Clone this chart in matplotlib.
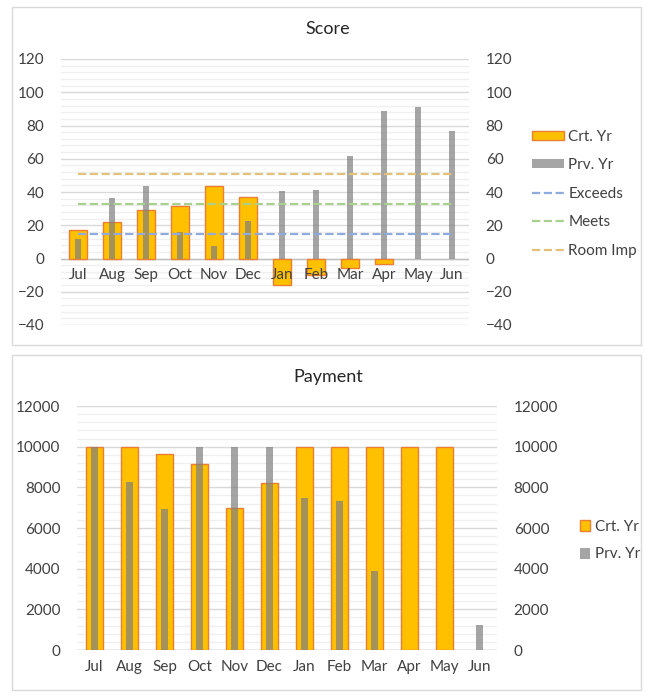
import matplotlib.pyplot as plt
from matplotlib.patches import Rectangle, Patch
from matplotlib.lines import Line2D
from matplotlib.ticker import MultipleLocator

plt.rcParams['font.family'] = ['Lato', 'DejaVu Sans']

# ==========================================================
# Data

months = ["Jul", "Aug", "Sep", "Oct", "Nov", "Dec",
          "Jan", "Feb", "Mar", "Apr", "May", "Jun"]

score_crt = [17, 22, 29, 31.5, 43.5, 37, -16, -10, -6, -3.5, 0, 0]
score_prv = [12, 36.5, 43.5, 16, 7.5, 22.5, 40.5, 41.5, 61.5, 88.5, 91, 76.5]
exceeds = 15
meets = 32.5
room_imp = 51

pay_crt = [10000, 10000, 9650, 9150, 7000, 8200,
           10000, 10000, 10000, 10000, 10000, 0]
pay_prv = [10000, 8250, 6950, 10000, 10000, 10000,
           7480, 7350, 3880, 0, 0, 1250]

YELLOW = "#FFC000"
ORANGE = "#ED7D31"
GREY = "#7F7F7F"
GRID = "#D9D9D9"
MINOR = "#EFEFEF"
TXT = "#404040"
FS = 11

fig = plt.figure(figsize=(6.45, 6.95), dpi=100)

# panel frames
for y0, h in [(350 / 695, 338 / 695), (5 / 695, 335 / 695)]:
    fig.add_artist(Rectangle((12 / 645, y0), 629 / 645, h,
                             transform=fig.transFigure, fill=False,
                             edgecolor=GRID, linewidth=1))


def style_axes(ax, lo, hi, major, minor):
    ax.set_ylim(lo, hi)
    ax.yaxis.set_major_locator(MultipleLocator(major))
    ax.yaxis.set_minor_locator(MultipleLocator(minor))
    ax.grid(axis="y", which="major", color=GRID, linewidth=1)
    ax.grid(axis="y", which="minor", color=MINOR, linewidth=0.9)
    ax.set_axisbelow(True)
    for s in ax.spines.values():
        s.set_visible(False)
    ax.tick_params(axis="y", which="both", length=0, labelsize=FS,
                   labelcolor=TXT, pad=12)
    ax.set_xticks([])

    # secondary axis on the right, same scale
    ax2 = ax.twinx()
    ax2.set_ylim(lo, hi)
    ax2.yaxis.set_major_locator(MultipleLocator(major))
    ax2.tick_params(axis="y", length=0, labelsize=FS, labelcolor=TXT, pad=12)
    for s in ax2.spines.values():
        s.set_visible(False)


def draw_bars(ax, crt, prv, crt_w):
    x = range(len(months))
    edges = [ORANGE if v else "none" for v in crt]
    ax.bar(x, crt, width=crt_w, color=YELLOW, edgecolor=edges,
           linewidth=1, zorder=2)
    ax.bar(x, prv, width=0.2, color=GREY, alpha=0.7, zorder=3)
    ax.set_xlim(-0.5, 11.5)
    ax.axhline(0, color="#BFBFBF", lw=1, zorder=1.5)
    for i, m in enumerate(months):
        ax.annotate(m, (i, 0), xytext=(0, -7), textcoords="offset points",
                    ha="center", va="top", fontsize=FS, color=TXT, zorder=6)


# ==========================================================
# Score

ax = fig.add_axes([61 / 645, 370 / 695, 408 / 645, 266 / 695])
draw_bars(ax, score_crt, score_prv, 0.54)
ax.plot([0, 11], [exceeds] * 2, "--", color="#8FAADC", lw=1.6, zorder=4)
ax.plot([0, 11], [meets] * 2, "--", color="#A9D18E", lw=1.6, zorder=4)
ax.plot([0, 11], [room_imp] * 2, "--", color="#E2C27A", lw=1.6, zorder=4)
style_axes(ax, -40, 120, 20, 4)
fig.text(328 / 645, 1 - 29 / 695, "Score", ha="center", va="center",
         fontsize=13, color="#262626")

handles = [
    Patch(facecolor=YELLOW, edgecolor=ORANGE, label="Crt. Yr"),
    Patch(facecolor="#A5A5A5", label="Prv. Yr"),
    Line2D([], [], ls="--", color="#8FAADC", lw=1.6, label="Exceeds"),
    Line2D([], [], ls="--", color="#A9D18E", lw=1.6, label="Meets"),
    Line2D([], [], ls="--", color="#E2C27A", lw=1.6, label="Room Imp"),
]
fig.legend(handles=handles, loc="upper left",
           bbox_to_anchor=(518 / 645, 1 - 116 / 695), frameon=False,
           fontsize=FS, labelcolor=TXT, handlelength=2.1, handleheight=0.55,
           labelspacing=0.95, handletextpad=0.3)

# ==========================================================
# Payment

bx = fig.add_axes([77 / 645, 45 / 695, 420 / 645, 244 / 695])
draw_bars(bx, pay_crt, pay_prv, 0.5)
style_axes(bx, 0, 12000, 2000, 400)
fig.text(328 / 645, 1 - 377 / 695, "Payment", ha="center", va="center",
         fontsize=13, color="#262626")

handles2 = [
    Patch(facecolor=YELLOW, edgecolor=ORANGE, label="Crt. Yr"),
    Patch(facecolor="#A5A5A5", label="Prv. Yr"),
]
fig.legend(handles=handles2, loc="upper left",
           bbox_to_anchor=(566 / 645, 1 - 506 / 695), frameon=False,
           fontsize=FS, labelcolor=TXT, handlelength=0.7, handleheight=0.7,
           labelspacing=0.9, handletextpad=0.3)

fig.savefig("out.png", dpi=100)
